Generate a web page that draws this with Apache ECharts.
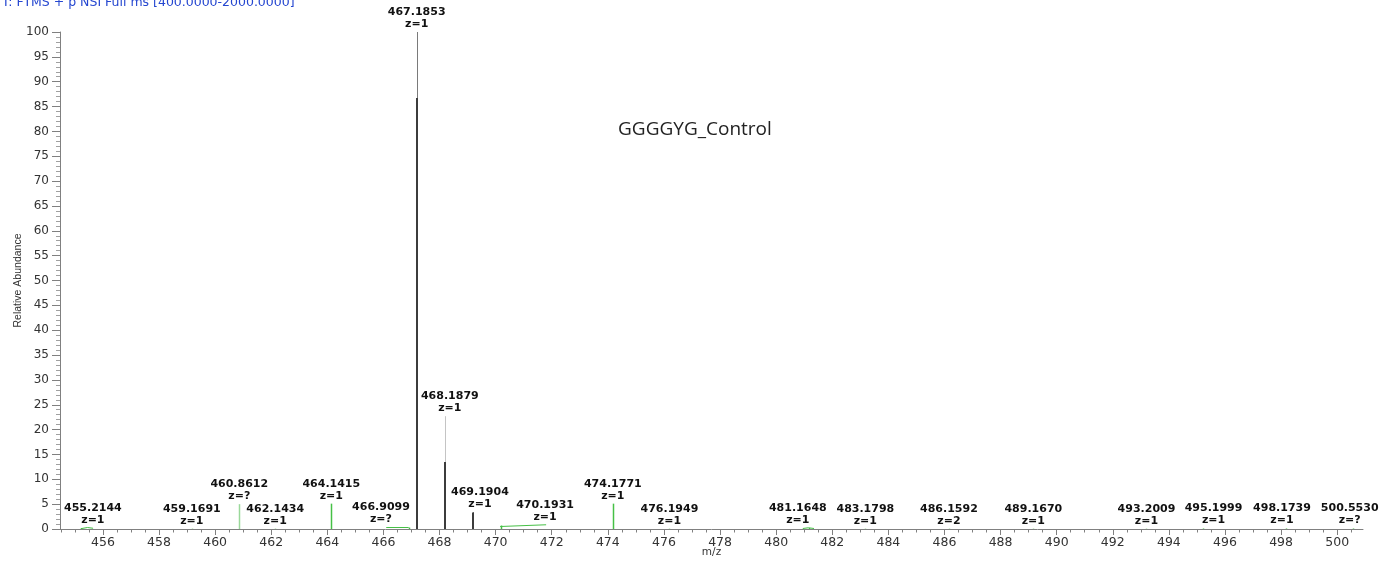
<!DOCTYPE html>
<html>
<head>
<meta charset="utf-8">
<script src="https://cdn.jsdelivr.net/npm/echarts@6/dist/echarts.min.js"></script>
<style>
  html, body { margin: 0; padding: 0; background: #fff; }
  #chart { width: 1384px; height: 565px; }
</style>
</head>
<body>
<div id="chart"></div>
<script>
// ---------------- DATA ----------------
const scanTitle = 'T: FTMS + p NSI Full ms [400.0000-2000.0000]';
const sampleName = 'GGGGYG_Control';
const xAxisName = 'm/z';
const yAxisName = 'Relative Abundance';

// centroid peaks (m/z, relative abundance, charge label, trace class)
const peakMz = [455.2144, 459.1691, 460.8612, 462.1434, 464.1415, 466.9099, 467.1853, 468.1879,
                469.1904, 470.1931, 474.1771, 476.1949, 481.1648, 483.1798, 486.1592, 489.1670,
                493.2009, 495.1999, 498.1739, 500.5530];
const peakInt = [0.2, 0.05, 5.0, 0.05, 5.1, 0.3, 100, 22.7,
                 3.4, 0.7, 5.1, 0.05, 0.2, 0.05, 0.05, 0.05,
                 0.05, 0.1, 0.1, 0.1];
const peakCharge = ['z=1', 'z=1', 'z=?', 'z=1', 'z=1', 'z=?', 'z=1', 'z=1',
                    'z=1', 'z=1', 'z=1', 'z=1', 'z=1', 'z=1', 'z=2', 'z=1',
                    'z=1', 'z=1', 'z=1', 'z=?'];
const peakClass = ['green', 'green', 'paleGreen', 'green', 'green', 'green', 'gray', 'lightGray',
                   'gray', 'green', 'green', 'green', 'green', 'green', 'green', 'green',
                   'green', 'green', 'green', 'green'];

// second (darker) trace overlapping the main isotope peaks
const darkMz  = [467.1853, 468.1879, 469.1904];
const darkInt = [86.7, 13.5, 3.3];

// low-level profile traces (each: list of [m/z, abundance])
const profileTraces = [
  [[455.25, 0.1], [455.45, 0.3], [455.65, 0.15]],
  [[466.10, 0.3], [466.90, 0.3]],
  [[470.16, 0.5], [471.80, 0.85]],
  [[480.95, 0.1], [481.15, 0.25], [481.35, 0.1]]
];

// axis ticks
const xMin = 454.47, xMax = 500.92;
const xMajorTicks = [456, 458, 460, 462, 464, 466, 468, 470, 472, 474, 476, 478, 480,
                     482, 484, 486, 488, 490, 492, 494, 496, 498, 500];
const yMin = 0, yMax = 100, yStep = 5;

// ---------------- LAYOUT / STYLE ----------------
const labelDx = { '455.2144': 12, '466.9099': -28, '468.1879': 5, '469.1904': 7, '470.1931': 44,
                  '481.1648': -11, '495.1999': 11, '498.1739': -4, '500.5530': -3 };
const classColor = { green: '#46c046', paleGreen: '#9ad89a', gray: '#7a7a7a', lightGray: '#c4c4c4' };
const classWidth = { green: 1.5, paleGreen: 1.5, gray: 1, lightGray: 1 };
const minorTicks = [];
for (let v = 454.5; v <= 500.9; v += 0.5) minorTicks.push(Math.round(v * 10) / 10);

const axisGray = '#808080';
const labelFont = '"DejaVu Sans", "Liberation Sans", Arial, sans-serif';

const chart = echarts.init(document.getElementById('chart'), null, { renderer: 'canvas' });

const option = {
  backgroundColor: '#ffffff',
  animation: false,
  grid: { left: 60, right: 21, top: 32, bottom: 36, containLabel: false, outerBoundsMode: 'none' },
  xAxis: [
    {
      type: 'value', min: xMin, max: xMax, position: 'bottom',
      name: xAxisName, nameLocation: 'middle', nameGap: 18, nameMoveOverlap: false,
      nameTextStyle: { fontFamily: labelFont, fontSize: 10.5, color: '#333' },
      axisLine: { show: true, onZero: false, lineStyle: { color: axisGray, width: 1 } },
      axisTick: { show: true, customValues: xMajorTicks, length: 6, lineStyle: { color: axisGray } },
      axisLabel: { show: true, customValues: xMajorTicks, margin: 7, fontFamily: labelFont, fontSize: 12.5, color: '#333' },
      splitLine: { show: false }
    },
    {
      type: 'value', min: xMin, max: xMax, position: 'bottom', gridIndex: 0,
      axisLine: { show: false, onZero: false },
      axisTick: { show: true, customValues: minorTicks, length: 3.5, lineStyle: { color: axisGray } },
      axisLabel: { show: false },
      splitLine: { show: false }
    }
  ],
  yAxis: {
    type: 'value', min: yMin, max: yMax, interval: yStep,
    name: yAxisName, nameLocation: 'middle', nameGap: 36, nameMoveOverlap: false,
    nameTextStyle: { fontFamily: '"Liberation Sans", Arial, sans-serif', fontSize: 10.5, color: '#333' },
    axisLine: { show: true, lineStyle: { color: axisGray } },
    axisTick: { show: true, length: 8, lineStyle: { color: axisGray } },
    minorTick: { show: true, splitNumber: 5, length: 4, lineStyle: { color: '#a0a0a0' } },
    axisLabel: { margin: 11, fontFamily: labelFont, fontSize: 12, color: '#333' },
    splitLine: { show: false }
  },
  graphic: [
    { type: 'text', left: 2, top: -4, style: { text: scanTitle, font: '12.5px "DejaVu Sans", Arial, sans-serif', fill: '#2446d0' } },
    { type: 'text', left: 618, top: 120, style: { text: sampleName, font: '19px "Open Sans", "Liberation Sans", sans-serif', fill: '#222' } }
  ],
  series: [
    {
      type: 'custom', name: 'profile',
      data: profileTraces.map((t, i) => [t[0][0], t[0][1], i]),
      renderItem: function (params, api) {
        const tr = profileTraces[api.value(2)];
        const pts = tr.map(p => api.coord(p));
        return { type: 'polyline', shape: { points: pts }, style: { stroke: '#46c046', lineWidth: 1, fill: null } };
      },
      z: 2
    },
    {
      type: 'custom', name: 'centroids',
      data: peakMz.map((m, i) => [m, peakInt[i], i]),
      renderItem: function (params, api) {
        const i = api.value(2);
        const p0 = api.coord([api.value(0), 0]);
        const p1 = api.coord([api.value(0), api.value(1)]);
        const x = Math.round(p0[0]) + 0.5;
        return { type: 'line', shape: { x1: x, y1: p0[1], x2: x, y2: p1[1] },
                 style: { stroke: classColor[peakClass[i]], lineWidth: classWidth[peakClass[i]] } };
      },
      z: 3
    },
    {
      type: 'custom', name: 'trace2',
      data: darkMz.map((m, i) => [m, darkInt[i]]),
      renderItem: function (params, api) {
        const p0 = api.coord([api.value(0), 0]);
        const p1 = api.coord([api.value(0), api.value(1)]);
        const x = Math.round(p0[0]);
        return { type: 'line', shape: { x1: x, y1: p0[1], x2: x, y2: p1[1] },
                 style: { stroke: '#3c3c3c', lineWidth: 2 } };
      },
      z: 4
    },
    {
      type: 'custom', name: 'labels',
      data: peakMz.map((m, i) => [m, peakInt[i], i]),
      renderItem: function (params, api) {
        const i = api.value(2);
        const key = peakMz[i].toFixed(4);
        let tipVal = api.value(1);
        if (key === '470.1931') tipVal = 0.85;
        const p1 = api.coord([api.value(0), tipVal]);
        const dx = labelDx[key] || 0;
        return {
          type: 'text', x: p1[0] + dx, y: p1[1] - 2,
          style: {
            text: key + '\n' + peakCharge[i],
            align: 'center', verticalAlign: 'bottom',
            textAlign: 'center', textVerticalAlign: 'bottom',
            fontFamily: labelFont, fontWeight: 'bold', fontSize: 11, lineHeight: 12,
            fill: '#111'
          }
        };
      },
      z: 5
    }
  ]
};
chart.setOption(option);
</script>
</body>
</html>
